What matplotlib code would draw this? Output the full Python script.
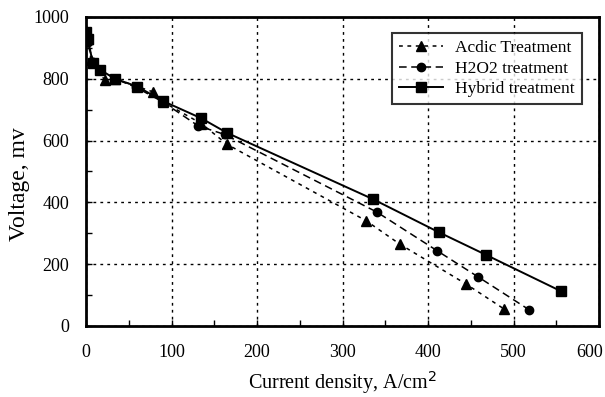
import numpy as np
import matplotlib
matplotlib.use("Agg")
import matplotlib.pyplot as plt
from matplotlib.ticker import MultipleLocator, FuncFormatter

plt.rcParams['font.family'] = ['Liberation Serif', 'DejaVu Serif']

# current density (A/cm2) and voltage (mV)
acidic_x = [0, 2, 6, 22, 34, 78, 90, 135, 165, 328, 367, 445, 489]
acidic_y = [955, 930, 860, 795, 800, 758, 725, 655, 588, 340, 265, 135, 55]

h2o2_x = [0, 2, 8, 16, 34, 58, 90, 131, 162, 340, 411, 458, 518]
h2o2_y = [945, 920, 855, 830, 800, 773, 725, 648, 620, 369, 243, 160, 53]

hybrid_x = [0, 2, 8, 16, 34, 60, 90, 135, 165, 336, 413, 468, 556]
hybrid_y = [950, 930, 851, 830, 800, 775, 728, 672, 625, 410, 303, 230, 112]

fig = plt.figure(figsize=(6.05, 3.97), dpi=100)
ax = fig.add_axes([86 / 605, 1 - 326 / 397, 513 / 605, 309 / 397])

ax.plot(acidic_x, acidic_y, color="black", linestyle=(0, (2.5, 3)), linewidth=1.1,
        marker="^", markersize=6.5, label="Acdic Treatment")
ax.plot(h2o2_x, h2o2_y, color="black", linestyle=(0, (5, 3)), linewidth=1.1,
        marker="o", markersize=6, label="H2O2 treatment")
ax.plot(hybrid_x, hybrid_y, color="black", linestyle="-", linewidth=1.4,
        marker="s", markersize=6.5, label="Hybrid treatment")

ax.set_xlim(0, 600)
ax.set_ylim(0, 1000)
ax.xaxis.set_major_locator(MultipleLocator(100))
ax.xaxis.set_minor_locator(MultipleLocator(50))
# the 600 label sits at the canvas edge, drawn separately below
ax.xaxis.set_major_formatter(FuncFormatter(lambda v, p: "" if v >= 600 else f"{v:.0f}"))
ax.yaxis.set_major_locator(MultipleLocator(200))
ax.yaxis.set_minor_locator(MultipleLocator(100))
ax.tick_params(which="both", direction="in", length=4, labelsize=13, width=1)
ax.tick_params(axis="x", pad=13)
ax.tick_params(axis="y", pad=12)
ax.grid(True, which="major", color="black", linestyle=(0, (2, 3)), linewidth=1)

ax.annotate("600", xy=(600, 0), xycoords=("data", "axes fraction"),
            xytext=(3, -13), textcoords="offset points", ha="right", va="top",
            fontsize=13)

for spine in ax.spines.values():
    spine.set_linewidth(2)

ax.set_xlabel("Current density, A/cm$^2$", fontsize=14.5)
ax.xaxis.set_label_coords(0.5, -0.14)
ax.set_ylabel("Voltage, mv", fontsize=17)
ax.yaxis.set_label_coords(-0.11, 0.46)

leg = ax.legend(loc="upper right", bbox_to_anchor=(0.966, 0.948), borderaxespad=0,
                fontsize=12.5, frameon=True, fancybox=False, handlelength=2.5,
                borderpad=0.4, labelspacing=0.25, handletextpad=0.7)
leg.get_frame().set_edgecolor("black")
leg.get_frame().set_linewidth(1.5)

fig.savefig("out.png", dpi=100)
